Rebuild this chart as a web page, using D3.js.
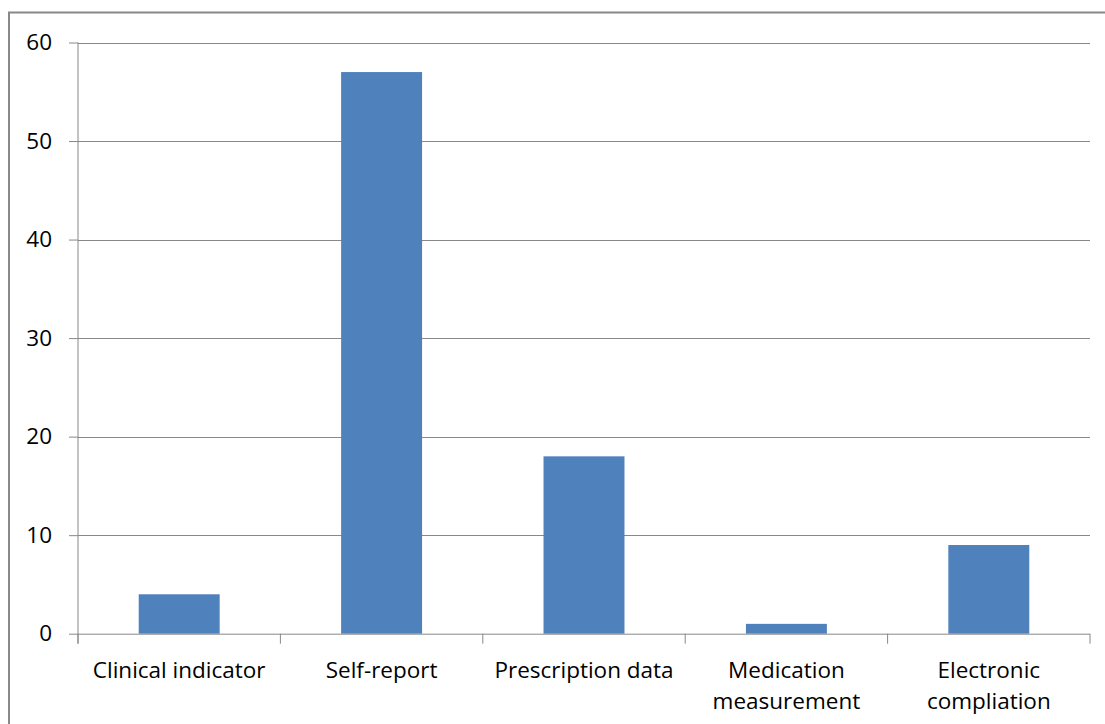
<!DOCTYPE html>
<html><head><meta charset="utf-8">
<script src="https://cdn.jsdelivr.net/npm/d3@7"></script>
<style>body{margin:0;background:#fff}svg{display:block}text{font-family:"Open Sans",sans-serif}</style>
</head><body>
<svg id="c" width="1105" height="724"></svg>
<script>
const categories = ["Clinical indicator","Self-report","Prescription data","Medication measurement","Electronic compliation"];
const labelLines = [["Clinical indicator"],["Self-report"],["Prescription data"],["Medication","measurement"],["Electronic","compliation"]];
const values = [4,57,18,1,9];
const yTicks = [0,10,20,30,40,50,60];

const svg = d3.select("#c");
const L=78, R=1090, T=42.5, B=633.7;
svg.append("rect").attr("x",9).attr("y",12.5).attr("width",1110).attr("height",730)
  .attr("fill","none").attr("stroke","#888").attr("stroke-width",2);

const x = d3.scaleBand().domain(categories).range([L,R]).paddingInner(0.6).paddingOuter(0.3);
const y = d3.scaleLinear().domain([0,60]).range([B,T]);

// gridlines
svg.append("g").selectAll("line").data(yTicks.filter(d=>d>0)).join("line")
  .attr("x1",L).attr("x2",R).attr("y1",d=>Math.round(y(d))+0.5).attr("y2",d=>Math.round(y(d))+0.5)
  .attr("stroke","#888").attr("stroke-width",1);

// bars
svg.append("g").selectAll("rect").data(values).join("rect")
  .attr("x",(d,i)=>x(categories[i])).attr("width",x.bandwidth())
  .attr("y",d=>y(d)).attr("height",d=>y(0)-y(d)).attr("fill","#4F81BD");

// y axis
const ya = svg.append("g").attr("transform",`translate(${L},0)`)
  .call(d3.axisLeft(y).tickValues(yTicks).tickSize(9).tickPadding(17).tickFormat(d3.format("d")));
ya.select(".domain").attr("stroke","#888").attr("d",`M0,${T}V${B+10}`);
ya.selectAll(".tick line").attr("stroke","#888");
ya.selectAll(".tick text").attr("font-size",22.5).attr("fill","#000").attr("font-family","Open Sans, sans-serif");

// x axis
const xa = svg.append("g").attr("transform",`translate(0,${B})`);
xa.append("line").attr("x1",L).attr("x2",R).attr("y1",0.5).attr("y2",0.5).attr("stroke","#888");
const bounds = d3.range(categories.length+1).map(i=>L+ (R-L)/categories.length*i);
xa.selectAll(".xt").data(bounds).join("line").attr("class","xt")
  .attr("x1",d=>d).attr("x2",d=>d).attr("y1",0).attr("y2",10).attr("stroke","#888");
const lab = xa.selectAll(".xl").data(categories).join("text").attr("class","xl")
  .attr("x",d=>x(d)+x.bandwidth()/2).attr("y",44).attr("text-anchor","middle")
  .attr("font-size",22.5).attr("fill","#000");
lab.each(function(d,i){
  const t=d3.select(this);
  labelLines[i].forEach((s,j)=>t.append("tspan").attr("x",x(d)+x.bandwidth()/2).attr("dy",j?31:0).text(s));
});
</script>
</body></html>
